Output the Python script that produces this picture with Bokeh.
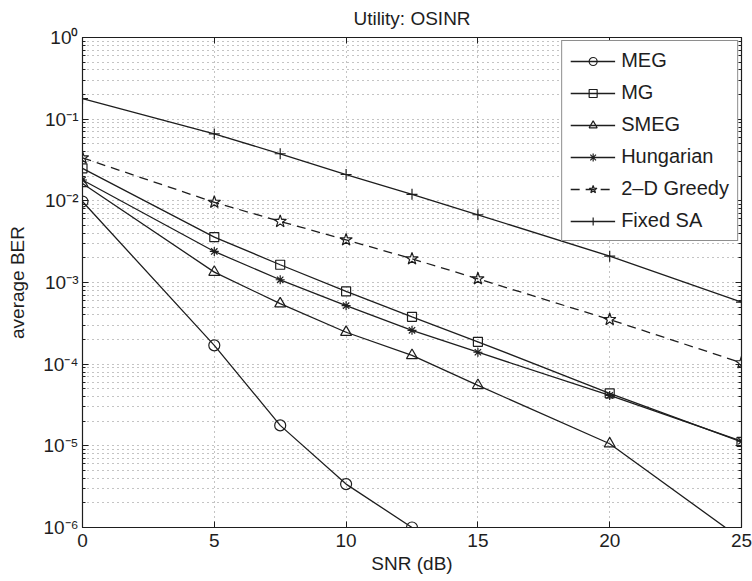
from bokeh.plotting import figure
from bokeh.models import (FixedTicker, CustomJSTickFormatter, Legend, LegendItem, Range1d,
                          LinearAxis, LogAxis)
from bokeh.embed import file_html
from bokeh.resources import INLINE

# ---- data ----
snr = [0, 5, 7.5, 10, 12.5, 15, 20, 25]
snr_meg = [0, 5, 7.5, 10, 12.5]
ber_meg = [9.8e-3, 1.7e-4, 1.78e-5, 3.4e-6, 1.0e-6]
ber_mg = [2.5e-2, 3.6e-3, 1.65e-3, 7.8e-4, 3.8e-4, 1.88e-4, 4.4e-5, 1.12e-5]
ber_smeg = [1.63e-2, 1.34e-3, 5.5e-4, 2.46e-4, 1.28e-4, 5.5e-5, 1.06e-5, 7.2e-7]
ber_hung = [1.8e-2, 2.4e-3, 1.08e-3, 5.2e-4, 2.6e-4, 1.4e-4, 4.14e-5, 1.14e-5]
ber_greedy = [3.36e-2, 9.6e-3, 5.6e-3, 3.33e-3, 1.95e-3, 1.11e-3, 3.52e-4, 1.04e-4]
ber_fixed = [0.178, 0.066, 0.0377, 0.021, 0.012, 6.75e-3, 2.1e-3, 5.74e-4]

x_ticks = [0, 5, 10, 15, 20, 25]
y_exps = [-6, -5, -4, -3, -2, -1, 0]

FONT = "Liberation Sans"
INK = "#1e1e1e"

y_major = [10.0 ** e for e in y_exps]
y_minor = [m * 10.0 ** e for e in y_exps[:-1] for m in range(2, 10)]
yticker = FixedTicker(ticks=y_major, minor_ticks=y_minor)
xticker = FixedTicker(ticks=x_ticks, minor_ticks=[])

p = figure(width=752, height=581, y_axis_type="log",
           x_range=Range1d(0, 25), y_range=Range1d(1e-6, 1),
           output_backend="svg", toolbar_location=None,
           title="Utility: OSINR",
           min_border_left=82, min_border_right=11,
           min_border_top=37, min_border_bottom=54)
p.background_fill_color = "white"
p.border_fill_color = "white"
p.outline_line_color = INK
p.outline_line_width = 1.2

p.title.align = "center"
p.title.text_font = FONT
p.title.text_font_size = "19px"
p.title.text_font_style = "normal"
p.title.text_color = INK
p.title.offset = 0
p.title.standoff = 10

fmt = CustomJSTickFormatter(code="""
const sup = {"0":"\u2070","1":"\u00b9","2":"\u00b2","3":"\u00b3","4":"\u2074",
             "5":"\u2075","6":"\u2076","7":"\u2077","8":"\u2078","9":"\u2079","-":"\u207b"};
const e = Math.round(Math.log10(tick));
return "10" + String(e).split("").map(c => sup[c]).join("");
""")
blank = CustomJSTickFormatter(code="return ' ';")

xa = p.xaxis[0]
ya = p.yaxis[0]
xa.ticker = xticker
ya.ticker = yticker
ya.formatter = fmt
for ax in (xa, ya):
    ax.axis_line_color = INK
    ax.major_tick_in = 6
    ax.major_tick_out = 0
    ax.minor_tick_in = 3
    ax.minor_tick_out = 0
    ax.major_tick_line_color = INK
    ax.minor_tick_line_color = INK
    ax.major_label_text_font = FONT
    ax.major_label_text_font_size = "19px"
    ax.major_label_text_color = INK
    ax.axis_label_text_font = FONT
    ax.axis_label_text_font_size = "19px"
    ax.axis_label_text_font_style = "normal"
    ax.axis_label_text_color = INK
xa.axis_label = "SNR (dB)"
ya.axis_label = "average BER"
xa.major_label_standoff = 6
ya.major_label_standoff = 4
xa.axis_label_standoff = 3
ya.axis_label_standoff = 12

top = LinearAxis(ticker=xticker, formatter=blank,
                 major_tick_in=6, major_tick_out=0, major_label_standoff=0,
                 axis_line_color=INK, major_tick_line_color=INK,
                 major_label_text_font_size="1px")
right = LogAxis(ticker=yticker, formatter=blank,
                major_tick_in=6, major_tick_out=0, minor_tick_in=3, minor_tick_out=0,
                major_label_standoff=0, axis_line_color=INK,
                major_tick_line_color=INK, minor_tick_line_color=INK,
                major_label_text_font_size="1px")
p.add_layout(top, "above")
p.add_layout(right, "right")

p.xgrid.ticker = FixedTicker(ticks=[5, 10, 15, 20])
p.ygrid.ticker = yticker
for g in (p.xgrid, p.ygrid):
    g.grid_line_color = "#555555"
    g.grid_line_dash = "1 4"
    g.grid_line_width = 1
    g.grid_line_alpha = 0.7
p.ygrid.minor_grid_line_color = "#555555"
p.ygrid.minor_grid_line_dash = "1 4"
p.ygrid.minor_grid_line_alpha = 0.7

LW = 1.3
items = []

def series(label, xs, ys, marker, size, dash="solid"):
    r1 = p.line(xs, ys, line_color=INK, line_width=LW, line_dash=dash)
    r2 = p.scatter(xs, ys, marker=marker, size=size, line_color=INK,
                   line_width=1.2, fill_color=None)
    items.append(LegendItem(label=label, renderers=[r1, r2]))

series("MEG", snr_meg, ber_meg, "circle", 11)
series("MG", snr, ber_mg, "square", 9)
series("SMEG", snr, ber_smeg, "triangle", 11)
series("Hungarian", snr, ber_hung, "asterisk", 9)
series("2\u2013D Greedy", snr, ber_greedy, "star", 13, dash="9 6")
series("Fixed SA", snr, ber_fixed, "cross", 11)

leg = Legend(items=items, location="top_right")
leg.margin = 3
leg.padding = 8
leg.spacing = 9
leg.glyph_width = 45
leg.glyph_height = 20
leg.label_height = 20
leg.label_standoff = 6
leg.label_text_font = FONT
leg.label_text_font_size = "20px"
leg.label_text_color = INK
leg.border_line_color = INK
leg.border_line_width = 1.2
leg.background_fill_color = "white"
leg.background_fill_alpha = 1
p.add_layout(leg)

open("out.html", "w").write(file_html(p, INLINE))
